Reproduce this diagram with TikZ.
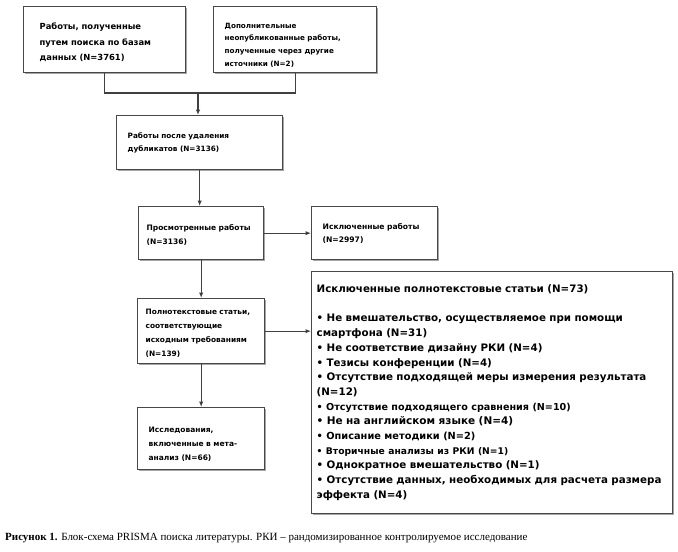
\documentclass[tikz,border=0pt]{standalone}
\usepackage{fontspec}
\setmainfont{DejaVu Sans}
\newfontfamily\capfont{Liberation Serif}
\usetikzlibrary{arrows.meta,shadows}
\begin{document}
\begin{tikzpicture}[x=1pt,y=-1pt,
  box/.style={draw=black!72, line width=1.3pt, fill=white, anchor=north west,
    align=left, inner ysep=0pt,
    drop shadow={shadow xshift=1pt,shadow yshift=-1.2pt,fill=black!35,opacity=1}},
  fnt/.style 2 args={font=\bfseries\fontsize{#1}{#2}\selectfont},
  arr/.style={draw=black!75, line width=1.2pt, -{Latex[length=5.5pt,width=4.5pt]}},
  ln/.style={draw=black!75, line width=1.2pt}]
\fill[white] (0,0) rectangle (678,552);
\useasboundingbox (0,0) rectangle (678,552);

\node[box, fnt={8.4}{15.5}, minimum width=162pt, minimum height=66pt, text width=130pt, inner xsep=16pt] (b1) at (23,6)
  {\rule{0pt}{12pt}Работы, полученные\\путем поиска по базам\\данных (N=3761)};
\node[box, fnt={7.2}{12.7}, minimum width=163pt, minimum height=66pt, text width=141pt, inner xsep=11pt] (b2) at (213,6)
  {\rule{0pt}{16pt}Дополнительные\\неопубликованные работы,\\полученные через другие\\источники (N=2)};
\node[box, fnt={7.3}{13}, minimum width=166pt, minimum height=54pt, text width=144pt, inner xsep=11pt] (b3) at (116,115)
  {Работы после удаления\\дубликатов (N=3136)};
\node[box, fnt={7.5}{14}, minimum width=125pt, minimum height=53pt, text width=109pt, inner xsep=8pt] (b4) at (138,206)
  {\rule{0pt}{10pt}Просмотренные работы\\(N=3136)};
\node[box, fnt={7.6}{13}, minimum width=126pt, minimum height=53pt, text width=104pt, inner xsep=11pt] (b5) at (311,206)
  {Исключенные работы\\(N=2997)};
\node[box, fnt={7.4}{14}, minimum width=127pt, minimum height=65pt, text width=111pt, inner xsep=8pt] (b6) at (137,298)
  {\rule{0pt}{10pt}Полнотекстовые статьи,\\соответствующие\\исходным требованиям\\(N=139)};
\node[box, fnt={7.5}{14}, minimum width=127pt, minimum height=62pt, text width=105pt, inner xsep=11pt] (b7) at (137,407)
  {\rule{0pt}{17pt}Исследования,\\включенные в мета-\\анализ (N=66)};
\node[box, fnt={10.3}{14.7}, minimum width=361pt, minimum height=242pt, text width=351pt, inner xsep=5pt] (big) at (311,271)
  {Исключенные полнотекстовые статьи (N=73)\\[14.7pt]
   • Не вмешательство, осуществляемое при помощи\\
   смартфона (N=31)\\
   • Не соответствие дизайну РКИ (N=4)\\
   • Тезисы конференции (N=4)\\
   • Отсутствие подходящей меры измерения результата\\
   (N=12)\\
   {\fontsize{9.6}{14.7}\selectfont • Отсутствие подходящего сравнения (N=10)}\\
   {\fontsize{10.5}{14.7}\selectfont • Не на английском языке (N=4)}\\
   {\fontsize{9.8}{14.7}\selectfont • Описание методики (N=2)}\\
   {\fontsize{9.2}{14.7}\selectfont • Вторичные анализы из РКИ (N=1)}\\
   • Однократное вмешательство (N=1)\\
   • Отсутствие данных, необходимых для расчета размера\\
   эффекта (N=4)};

\coordinate (jm) at (198,93);
\draw[ln] (b1.south) -- (b1.south |- jm) -- (b2.south |- jm) -- (b2.south);
\draw[arr] (jm) -- (jm |- b3.north);
\draw[arr] (b3.south) -- (b3.south |- b4.north);
\draw[arr] (b4.east) -- (b5.west);
\draw[arr] (b4.south) -- (b6.north);
\draw[arr] (b6.east) -- (b6.east -| big.west);
\draw[arr] (b6.south) -- (b7.north);

\node[anchor=base west, inner sep=0pt] (cap) at (5,540)
  {\capfont\fontsize{11}{13}\selectfont \textbf{Рисунок 1.} Блок-схема PRISMA поиска литературы. РКИ – рандомизированное контролируемое исследование};
\end{tikzpicture}
\end{document}
